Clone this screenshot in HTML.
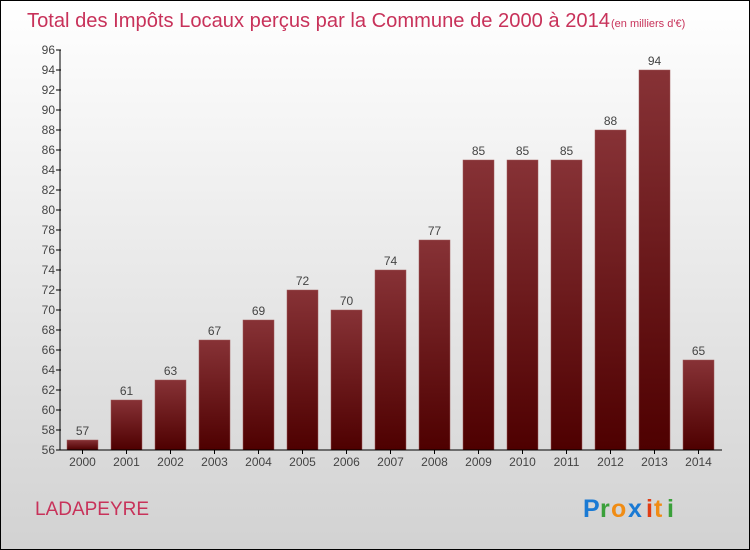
<!DOCTYPE html>
<html><head><meta charset="utf-8"><style>
body{margin:0}
#c{width:748px;height:548px;border:1px solid #000;background:linear-gradient(#fff,#d2d2d2);position:relative;overflow:hidden;font-family:"Liberation Sans",sans-serif}
</style></head><body>
<div id="c">
<svg width="748" height="548" id="svg">
<defs><linearGradient id="bg" x1="0" y1="0" x2="0" y2="1"><stop offset="0" stop-color="#873236"/><stop offset="1" stop-color="#4e0000"/></linearGradient></defs>
<text x="26" y="26" font-size="20" fill="#c8325a" textLength="583" lengthAdjust="spacingAndGlyphs">Total des Impôts Locaux perçus par la Commune de 2000 à 2014</text>
<text x="610" y="26" font-size="11" fill="#c8325a">(en milliers d'€)</text>
<text x="34" y="514" font-size="19" fill="#c8325a">LADAPEYRE</text>
<g font-size="25" font-weight="bold"><text x="582" y="516" fill="#1a7ad4">P</text><text x="599" y="516" fill="#3aa03a">r</text><text x="610" y="516" fill="#f08c14">o</text><text x="627" y="516" fill="#1a7ad4">x</text><text x="645" y="516" fill="#e03c14">i</text><text x="653" y="516" fill="#f08c14">t</text><text x="666" y="516" fill="#3aa03a">i</text></g>
<g id="plot"></g>
</svg></div>
<script>
const years=["2000","2001","2002","2003","2004","2005","2006","2007","2008","2009","2010","2011","2012","2013","2014"];
const values=[57,61,63,67,69,72,70,74,77,85,85,85,88,94,65];
const yTicks=[56,58,60,62,64,66,68,70,72,74,76,78,80,82,84,86,88,90,92,94,96];
const ns="http://www.w3.org/2000/svg",g=document.getElementById("plot");
const yMin=56,yMax=96,yTop=49,yBot=449,x0=59;
const y=v=>yBot-(v-yMin)/(yMax-yMin)*(yBot-yTop);
const xc=i=>81.5+i*44;
function mk(t,a){const e=document.createElementNS(ns,t);for(const k in a)e.setAttribute(k,a[k]);g.appendChild(e);return e;}
yTicks.forEach(v=>{
const l=mk("line",{x1:x0-4,x2:x0+1,y1:y(v),y2:y(v),stroke:"#000"});


const t=mk("text",{x:x0-5,y:y(v)+4,"font-size":12,fill:"#444","text-anchor":"end"});t.textContent=v;


});
values.forEach((v,i)=>{
const r=mk("rect",{x:xc(i)-15.5,y:y(v),width:31,height:yBot-y(v),fill:"url(#bg)",stroke:"#a05a5a","stroke-width":0.5});


const t=mk("text",{x:xc(i),y:y(v)-5,"font-size":12,fill:"#444","text-anchor":"middle"});t.textContent=v;


const tk=mk("line",{x1:xc(i),x2:xc(i),y1:yBot,y2:yBot+4,stroke:"#000"});


const xl=mk("text",{x:xc(i),y:yBot+16,"font-size":12,fill:"#444","text-anchor":"middle"});xl.textContent=years[i];


});
const ya=mk("line",{x1:x0,x2:x0,y1:yTop,y2:yBot,stroke:"#000"});


const xa=mk("line",{x1:x0,x2:721,y1:yBot,y2:yBot,stroke:"#000"});


</script>
</body></html>
